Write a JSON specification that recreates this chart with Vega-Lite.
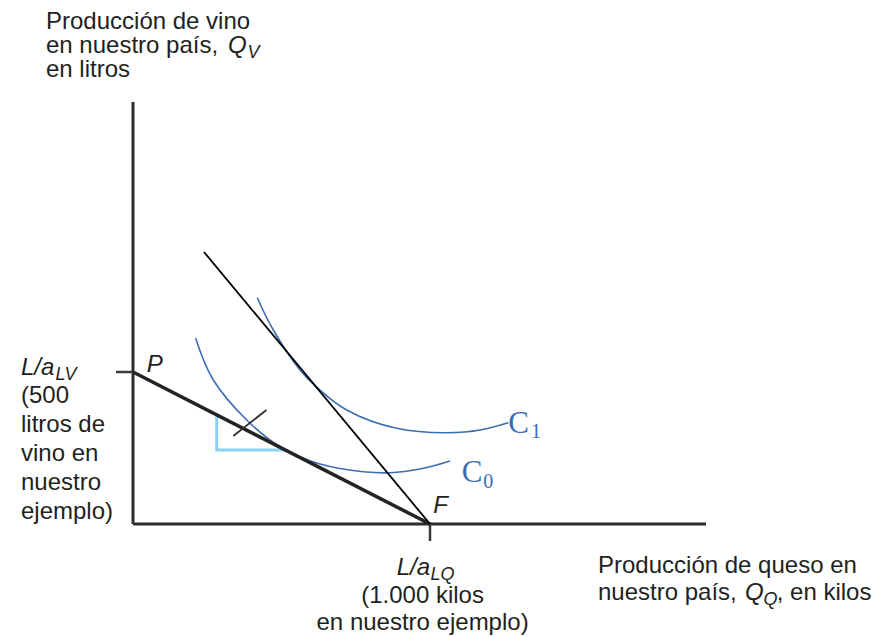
{
  "$schema": "https://vega.github.io/schema/vega-lite/v6.json",
  "width": 874,
  "height": 637,
  "padding": 0,
  "autosize": {"type": "none"},
  "background": "white",
  "config": {"view": {"stroke": null}},
  "datasets": {
    "segs": [
      {"part": "axis", "seg": "yaxis", "pt": 0, "x": 0, "y": 1388.2},
      {"part": "axis", "seg": "yaxis", "pt": 1, "x": 0, "y": 0},
      {"part": "axis", "seg": "xaxis", "pt": 0, "x": 0, "y": 0},
      {"part": "axis", "seg": "xaxis", "pt": 1, "x": 1929.3, "y": 0},
      {"part": "tick", "seg": "ytick", "pt": 0, "x": -57.2, "y": 500},
      {"part": "tick", "seg": "ytick", "pt": 1, "x": 0, "y": 500},
      {"part": "tick", "seg": "xtick", "pt": 0, "x": 1000, "y": 0},
      {"part": "tick", "seg": "xtick", "pt": 1, "x": 1000, "y": -55.9},
      {"part": "ppf", "seg": "ppf", "pt": 0, "x": 0, "y": 500},
      {"part": "ppf", "seg": "ppf", "pt": 1, "x": 1000, "y": 0},
      {"part": "price", "seg": "price", "pt": 0, "x": 239.1, "y": 894.7},
      {"part": "price", "seg": "price", "pt": 1, "x": 1000, "y": 0},
      {"part": "slash", "seg": "slash", "pt": 0, "x": 337.7, "y": 289.5},
      {"part": "slash", "seg": "slash", "pt": 1, "x": 449.2, "y": 375.0},
      {"part": "tri", "seg": "tri", "pt": 0, "x": 281.8, "y": 358.6},
      {"part": "tri", "seg": "tri", "pt": 1, "x": 281.8, "y": 243.4},
      {"part": "tri", "seg": "tri", "pt": 2, "x": 513.1, "y": 243.4}
    ],
    "curves": [
      {"curve": "C1", "x": 418.5, "y": 744.4},
      {"curve": "C1", "x": 472.4, "y": 638.2},
      {"curve": "C1", "x": 562.3, "y": 506.6},
      {"curve": "C1", "x": 629.6, "y": 440.8},
      {"curve": "C1", "x": 719.5, "y": 375.0},
      {"curve": "C1", "x": 887.9, "y": 314.8},
      {"curve": "C1", "x": 1056.2, "y": 300.3},
      {"curve": "C1", "x": 1168.4, "y": 309.2},
      {"curve": "C1", "x": 1263.6, "y": 333.2},
      {"curve": "C0", "x": 211.1, "y": 610.9},
      {"curve": "C0", "x": 270.4, "y": 473.7},
      {"curve": "C0", "x": 382.8, "y": 342.1},
      {"curve": "C0", "x": 494.9, "y": 254.3},
      {"curve": "C0", "x": 629.6, "y": 197.4},
      {"curve": "C0", "x": 775.4, "y": 172.0},
      {"curve": "C0", "x": 887.9, "y": 170.1},
      {"curve": "C0", "x": 1000, "y": 188.5},
      {"curve": "C0", "x": 1067.3, "y": 207.2}
    ],
    "blocks": [
      {"kind": "top", "text": "Producción de vino\nen nuestro país,\nen litros", "x": -292.9, "y": 1627.3},
      {"kind": "left", "text": "(500\nlitros de\nvino en\nnuestro\nejemplo)", "x": -377.1, "y": 397.0},
      {"kind": "bottom", "text": "(1.000 kilos\nen nuestro ejemplo)", "x": 975.0, "y": -261.5},
      {"kind": "right", "text": "Producción de queso en\nnuestro país,", "x": 1565.7, "y": -162.2}
    ],
    "labels": [
      {"kind": "sans", "text": ", en kilos", "x": 2167.4, "y": -250.0},
      {"kind": "ital", "text": "Q", "x": 319.9, "y": 1548.4},
      {"kind": "sub", "text": "V", "x": 385.5, "y": 1532.9},
      {"kind": "ital", "text": "L/a", "x": -377.1, "y": 490.1},
      {"kind": "sub", "text": "LV", "x": -260.9, "y": 473.7},
      {"kind": "ital", "text": "P", "x": 46.1, "y": 501.0},
      {"kind": "ital", "text": "F", "x": 1011.3, "y": 35.2},
      {"kind": "ital", "text": "L/a", "x": 887.9, "y": -167.8},
      {"kind": "sub", "text": "LQ", "x": 1001.7, "y": -184.2},
      {"kind": "ital", "text": "Q", "x": 2060.6, "y": -250.0},
      {"kind": "sub", "text": "Q", "x": 2122.9, "y": -266.4},
      {"kind": "cbig", "text": "C", "x": 1263.7, "y": 300.3},
      {"kind": "csub", "text": "1", "x": 1340.1, "y": 281.9},
      {"kind": "cbig", "text": "C", "x": 1106.7, "y": 139.1},
      {"kind": "csub", "text": "0", "x": 1179.5, "y": 117.4}
    ]
  },
  "encoding": {
    "x": {"field": "x", "type": "quantitative", "scale": {"domain": [-447.8, 2494.9], "nice": false, "zero": false}, "axis": null},
    "y": {"field": "y", "type": "quantitative", "scale": {"domain": [-371.7, 1723.7], "nice": false, "zero": false}, "axis": null}
  },
  "layer": [
    {
      "data": {"name": "segs"},
      "transform": [{"filter": "datum.part === 'tri'"}],
      "mark": {"type": "line", "stroke": "#8ad2f3", "strokeWidth": 3, "strokeJoin": "miter"},
      "encoding": {"detail": {"field": "seg"}, "order": {"field": "pt"}}
    },
    {
      "data": {"name": "curves"},
      "mark": {"type": "line", "stroke": "#3b6db3", "strokeWidth": 1.6, "interpolate": "natural"},
      "encoding": {"detail": {"field": "curve"}}
    },
    {
      "data": {"name": "segs"},
      "transform": [{"filter": "datum.part === 'axis'"}],
      "mark": {"type": "line", "stroke": "#2d2d2d", "strokeWidth": 3},
      "encoding": {"detail": {"field": "seg"}, "order": {"field": "pt"}}
    },
    {
      "data": {"name": "segs"},
      "transform": [{"filter": "datum.part === 'tick'"}],
      "mark": {"type": "line", "stroke": "#3a3a3a", "strokeWidth": 2.5},
      "encoding": {"detail": {"field": "seg"}, "order": {"field": "pt"}}
    },
    {
      "data": {"name": "segs"},
      "transform": [{"filter": "datum.part === 'ppf'"}],
      "mark": {"type": "line", "stroke": "#232323", "strokeWidth": 3.5},
      "encoding": {"detail": {"field": "seg"}, "order": {"field": "pt"}}
    },
    {
      "data": {"name": "segs"},
      "transform": [{"filter": "datum.part === 'price'"}],
      "mark": {"type": "line", "stroke": "#000000", "strokeWidth": 1.8},
      "encoding": {"detail": {"field": "seg"}, "order": {"field": "pt"}}
    },
    {
      "data": {"name": "segs"},
      "transform": [{"filter": "datum.part === 'slash'"}],
      "mark": {"type": "line", "stroke": "#333333", "strokeWidth": 1.8},
      "encoding": {"detail": {"field": "seg"}, "order": {"field": "pt"}}
    },
    {
      "data": {"name": "blocks"},
      "transform": [{"filter": "datum.kind === 'top'"}],
      "mark": {"type": "text", "align": "left", "baseline": "alphabetic", "lineBreak": "\n", "lineHeight": 23.8, "font": "Liberation Sans", "fontSize": 24, "fill": "#231f20"},
      "encoding": {"text": {"field": "text"}}
    },
    {
      "data": {"name": "blocks"},
      "transform": [{"filter": "datum.kind === 'left'"}],
      "mark": {"type": "text", "align": "left", "baseline": "alphabetic", "lineBreak": "\n", "lineHeight": 28.8, "font": "Liberation Sans", "fontSize": 24, "fill": "#231f20"},
      "encoding": {"text": {"field": "text"}}
    },
    {
      "data": {"name": "blocks"},
      "transform": [{"filter": "datum.kind === 'bottom'"}],
      "mark": {"type": "text", "align": "center", "baseline": "alphabetic", "lineBreak": "\n", "lineHeight": 26.2, "font": "Liberation Sans", "fontSize": 24, "fill": "#231f20"},
      "encoding": {"text": {"field": "text"}}
    },
    {
      "data": {"name": "blocks"},
      "transform": [{"filter": "datum.kind === 'right'"}],
      "mark": {"type": "text", "align": "left", "baseline": "alphabetic", "lineBreak": "\n", "lineHeight": 26.7, "font": "Liberation Sans", "fontSize": 24, "fill": "#231f20"},
      "encoding": {"text": {"field": "text"}}
    },
    {
      "data": {"name": "labels"},
      "transform": [{"filter": "datum.kind === 'sans'"}],
      "mark": {"type": "text", "align": "left", "baseline": "alphabetic", "font": "Liberation Sans", "fontSize": 24, "fill": "#231f20"},
      "encoding": {"text": {"field": "text"}}
    },
    {
      "data": {"name": "labels"},
      "transform": [{"filter": "datum.kind === 'ital'"}],
      "mark": {"type": "text", "align": "left", "baseline": "alphabetic", "font": "Liberation Sans", "fontStyle": "italic", "fontSize": 24, "fill": "#231f20"},
      "encoding": {"text": {"field": "text"}}
    },
    {
      "data": {"name": "labels"},
      "transform": [{"filter": "datum.kind === 'sub'"}],
      "mark": {"type": "text", "align": "left", "baseline": "alphabetic", "font": "Liberation Sans", "fontStyle": "italic", "fontSize": 18, "fill": "#231f20"},
      "encoding": {"text": {"field": "text"}}
    },
    {
      "data": {"name": "labels"},
      "transform": [{"filter": "datum.kind === 'cbig'"}],
      "mark": {"type": "text", "align": "left", "baseline": "alphabetic", "font": "Liberation Serif", "fontSize": 31, "fill": "#3b6db3"},
      "encoding": {"text": {"field": "text"}}
    },
    {
      "data": {"name": "labels"},
      "transform": [{"filter": "datum.kind === 'csub'"}],
      "mark": {"type": "text", "align": "left", "baseline": "alphabetic", "font": "Liberation Serif", "fontSize": 20, "fill": "#3b6db3"},
      "encoding": {"text": {"field": "text"}}
    }
  ]
}
